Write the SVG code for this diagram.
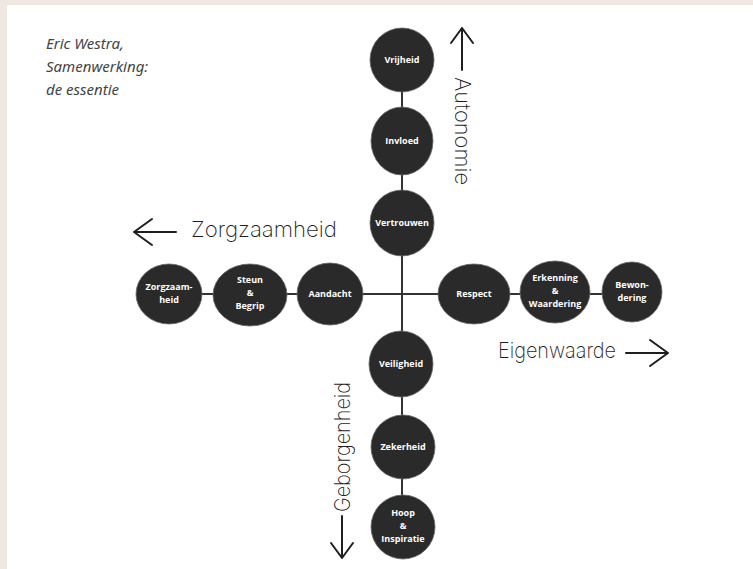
<svg xmlns="http://www.w3.org/2000/svg" width="753" height="569" viewBox="0 0 753 569">
<style>
.node{fill:#2a2a2a;stroke:#6a6a6a;stroke-width:0.8}
.nt{font-family:"Open Sans","Noto Sans","DejaVu Sans",sans-serif;font-weight:700;font-size:9px;fill:#ffffff;text-anchor:middle}
.hand{font-family:"Inter","DejaVu Sans",sans-serif;font-weight:200;font-size:22px;fill:#1e1e1e}
.title{font-family:"Noto Sans","Open Sans",sans-serif;font-style:italic;font-size:15px;fill:#444444}
.line{stroke:#333333;stroke-width:2;fill:none}
.arrow{stroke:#1e1e1e;stroke-width:2;fill:none;stroke-linecap:round;stroke-linejoin:round}
</style>
<rect x="0" y="0" width="753" height="569" fill="#ffffff"/>
<rect x="0" y="0" width="753" height="5" fill="#efe7e1"/>
<rect x="0" y="0" width="7" height="569" fill="#efe7e1"/>

<g id="title">
<text class="title" x="46" y="49">Eric Westra,</text>
<text class="title" x="46" y="72">Samenwerking:</text>
<text class="title" x="46" y="95">de essentie</text>
</g>

<g id="connectors">
<line class="line" x1="402" y1="90" x2="402" y2="497"/>
<line class="line" x1="200" y1="294" x2="605" y2="294"/>
</g>

<g id="node-vrijheid"><ellipse class="node" cx="402" cy="60" rx="32" ry="32"/><text class="nt" x="402" y="63">Vrijheid</text></g>
<g id="node-invloed"><ellipse class="node" cx="402" cy="141" rx="31" ry="34"/><text class="nt" x="402" y="144">Invloed</text></g>
<g id="node-vertrouwen"><ellipse class="node" cx="402" cy="223" rx="32" ry="33"/><text class="nt" x="402" y="226">Vertrouwen</text></g>
<g id="node-veiligheid"><ellipse class="node" cx="401" cy="364" rx="32" ry="33"/><text class="nt" x="401" y="367">Veiligheid</text></g>
<g id="node-zekerheid"><ellipse class="node" cx="403" cy="447" rx="32" ry="32"/><text class="nt" x="403" y="450">Zekerheid</text></g>
<g id="node-hoop"><ellipse class="node" cx="403" cy="527" rx="32" ry="32"/><text class="nt" x="403" y="516">Hoop</text><text class="nt" x="403" y="529">&amp;</text><text class="nt" x="403" y="542">Inspiratie</text></g>

<g id="node-zorgzaamheid"><ellipse class="node" cx="169" cy="294" rx="33" ry="30"/><text class="nt" x="169" y="290">Zorgzaam-</text><text class="nt" x="169" y="303">heid</text></g>
<g id="node-steun"><ellipse class="node" cx="250" cy="295" rx="37" ry="31"/><text class="nt" x="250" y="283">Steun</text><text class="nt" x="250" y="296">&amp;</text><text class="nt" x="250" y="309">Begrip</text></g>
<g id="node-aandacht"><ellipse class="node" cx="330" cy="294" rx="33" ry="31"/><text class="nt" x="330" y="297">Aandacht</text></g>

<g id="node-respect"><ellipse class="node" cx="474" cy="294" rx="36" ry="30"/><text class="nt" x="474" y="297">Respect</text></g>
<g id="node-erkenning"><ellipse class="node" cx="555" cy="292" rx="35" ry="31"/><text class="nt" x="555" y="281">Erkenning</text><text class="nt" x="555" y="294">&amp;</text><text class="nt" x="555" y="307">Waardering</text></g>
<g id="node-bewondering"><ellipse class="node" cx="632" cy="292" rx="30" ry="30"/><text class="nt" x="632" y="288">Bewon-</text><text class="nt" x="632" y="301">dering</text></g>

<g id="label-autonomie">
<path class="arrow" d="M462 70 L462 28 M451 43 L462 28 L473 43"/>
<text class="hand" transform="translate(455 77) rotate(90)" textLength="108" lengthAdjust="spacingAndGlyphs">Autonomie</text>
</g>
<g id="label-zorgzaamheid">
<path class="arrow" d="M176 232 L134 232 M152 219 L134 232 L152 245"/>
<text class="hand" x="191" y="237" textLength="146" lengthAdjust="spacingAndGlyphs">Zorgzaamheid</text>
</g>
<g id="label-eigenwaarde">
<path class="arrow" d="M626 353 L668 353 M650 340 L668 353 L650 366"/>
<text class="hand" x="498" y="358" textLength="118" lengthAdjust="spacingAndGlyphs">Eigenwaarde</text>
</g>
<g id="label-geborgenheid">
<path class="arrow" d="M342 516 L342 558 M331 543 L342 558 L353 543"/>
<text class="hand" transform="translate(350 512) rotate(-90)" textLength="130" lengthAdjust="spacingAndGlyphs">Geborgenheid</text>
</g>
</svg>
